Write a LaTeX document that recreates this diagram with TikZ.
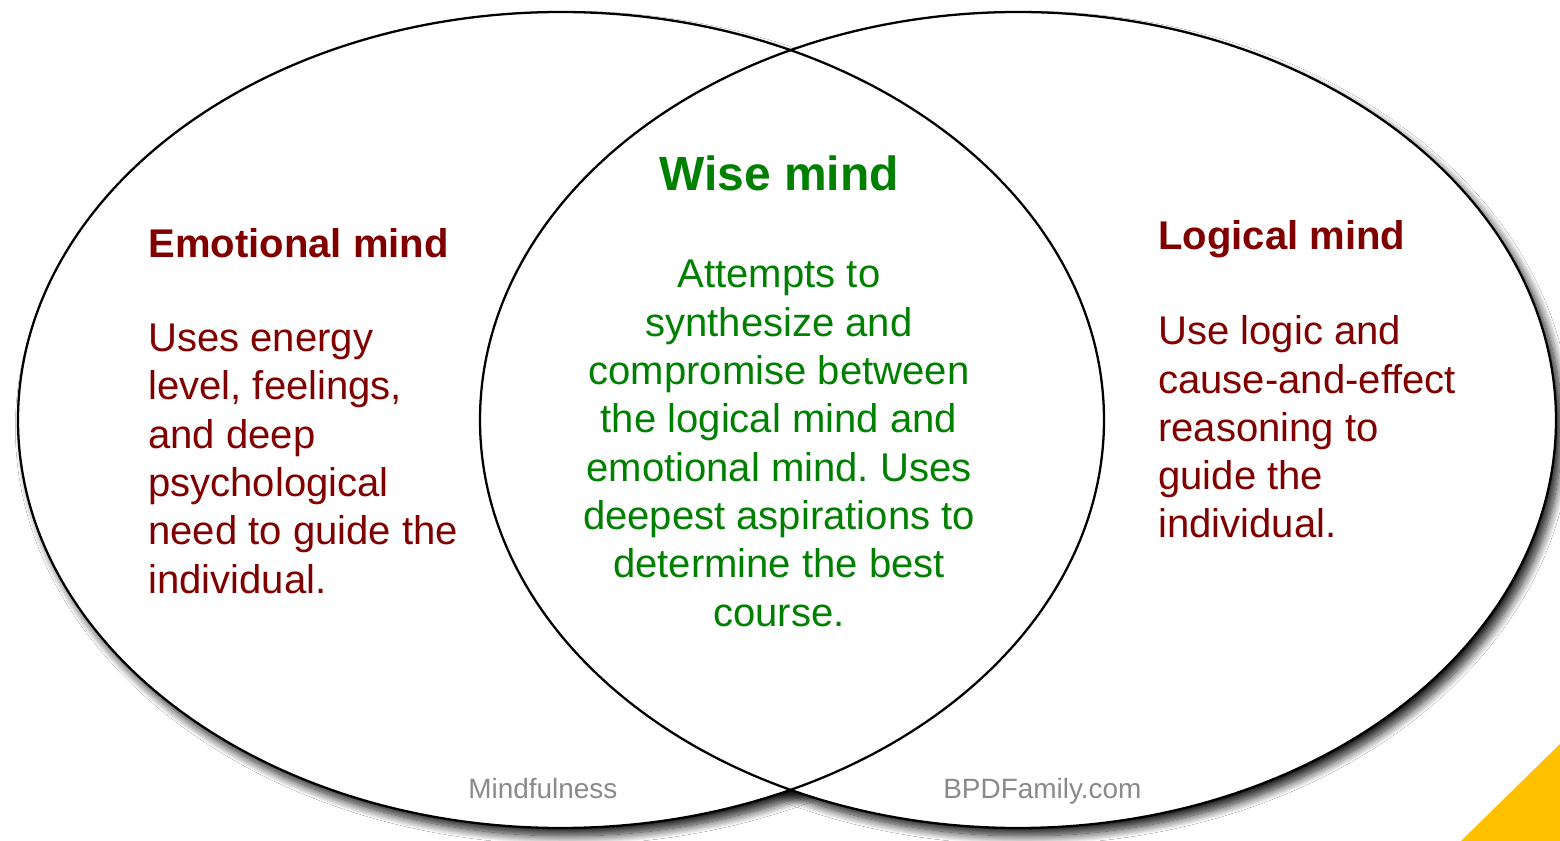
\documentclass[tikz,border=0pt]{standalone}
\usepackage{fontspec}
\setmainfont{Liberation Sans}
\frenchspacing
\usetikzlibrary{shadows.blur}
\definecolor{mindred}{HTML}{800000}
\definecolor{mindgreen}{HTML}{008000}
\definecolor{markgray}{HTML}{8A8A8A}
\definecolor{cornergold}{HTML}{FFC000}
\tikzset{
  headtext/.style={font=\bfseries\fontsize{22.8}{27.5}\selectfont, inner sep=0pt},
  bodytext/.style={font=\fontsize{22.8}{27.5}\selectfont, inner sep=0pt},
  marktext/.style={font=\fontsize{15.9}{19}\selectfont, text=markgray, inner sep=0pt},
  mindline/.style={line width=1.3pt, black},
  mindshadow/.style={blur shadow={shadow xshift=3.5pt, shadow yshift=-4.5pt,
      shadow blur radius=5pt, shadow blur steps=14, shadow opacity=90}}
}

\begin{document}
\begin{tikzpicture}[x=0.02cm, y=-0.02cm]
			%%%%% START %%%%%
			\def\cy{420}
			\def\ry{408}
			\def\xemo{561}
			\def\rxemo{543}
			\def\xlog{1018}
			\def\rxlog{538}

			\fill[white] (0,0) rectangle (1560,841);
			\useasboundingbox (0,0) rectangle (1560,841);

			\coordinate (emo) at (\xemo,\cy);
			\coordinate (log) at (\xlog,\cy);

			\fill[white, mindshadow] (emo) ellipse [x radius=\rxemo, y radius=\ry];
			\fill[white, mindshadow] (log) ellipse [x radius=\rxlog, y radius=\ry];
			\fill[white] (emo) ellipse [x radius=\rxemo, y radius=\ry];
			\fill[white] (log) ellipse [x radius=\rxlog, y radius=\ry];
			\draw[mindline] (emo) ellipse [x radius=\rxemo, y radius=\ry];
			\draw[mindline] (log) ellipse [x radius=\rxlog, y radius=\ry];

			% base of a multi-line node = baseline of its last line
			\node[headtext, text=mindred, anchor=base west] (emohead) at (148,258) {Emotional mind};
			\node[bodytext, text=mindred, align=left, anchor=base west] (emobody) at (148,593)
				{Uses energy\\level, feelings,\\and deep\\psychological\\need to guide the\\individual.};

			\node[headtext, text=mindgreen, anchor=base, font=\bfseries\fontsize{27.3}{32}\selectfont] (wisehead) at (779,191) {Wise mind};
			\node[bodytext, text=mindgreen, align=center, anchor=base] (wisebody) at (779,626)
				{Attempts to\\synthesize and\\compromise between\\the logical mind and\\emotional mind. Uses\\deepest aspirations to\\determine the best\\course.};

			\node[headtext, text=mindred, anchor=base west] (loghead) at (1158,250) {Logical mind};
			\node[bodytext, text=mindred, align=left, anchor=base west] (logbody) at (1158,538)
				{Use logic and\\cause-and-effect\\reasoning to\\guide the\\individual.};

			\node[marktext, anchor=base west] (mindmark) at (468,798) {Mindfulness};
			\node[marktext, anchor=base west] (sitemark) at (943,798) {BPDFamily.com};

			\fill[cornergold] (1461,841) -- (1560,744) -- (1560,841) -- cycle;
			%%%%% END %%%%%
\end{tikzpicture}
\end{document}
